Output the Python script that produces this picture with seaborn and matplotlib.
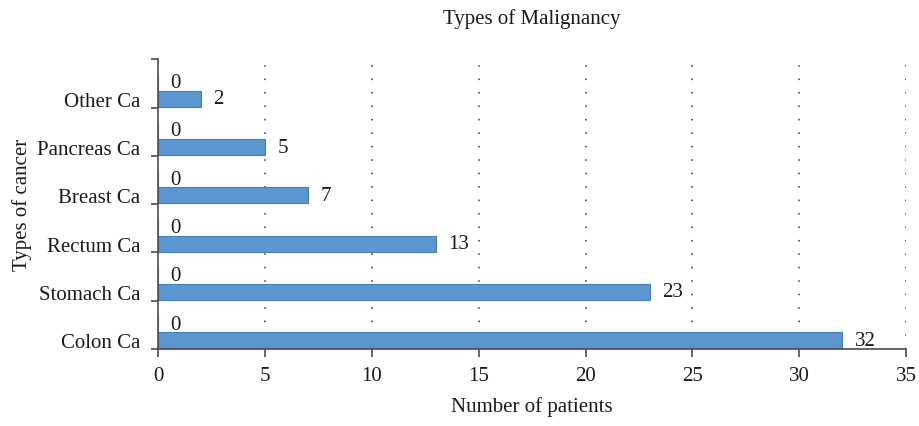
import pandas as pd
import numpy as np
import matplotlib.pyplot as plt
import seaborn as sns

# datos
tipos = ['Other Ca', 'Pancreas Ca', 'Breast Ca', 'Rectum Ca', 'Stomach Ca', 'Colon Ca']
pacientes = [2, 5, 7, 13, 23, 32]
serie_cero = [0, 0, 0, 0, 0, 0]

df = pd.DataFrame({
    'tipo': tipos * 2,
    'valor': serie_cero + pacientes,
    'serie': ['cero'] * len(tipos) + ['pacientes'] * len(tipos),
})

sns.set_style('white')
plt.rcParams['font.family'] = ['Liberation Serif', 'DejaVu Serif']

azul = '#5b96cf'
gris = '#4d4d4d'
texto = '#1a1a1a'
fs = 15

fig, ax = plt.subplots(figsize=(9.19, 4.27), dpi=100)
fig.subplots_adjust(left=0.172, right=0.986, top=0.859, bottom=0.18)

sns.barplot(data=df, x='valor', y='tipo', hue='serie', order=tipos,
            hue_order=['cero', 'pacientes'], palette=[azul, azul], saturation=1,
            orient='h', width=0.67, edgecolor='#4a7db3', linewidth=0.8,
            legend=False, ax=ax)

for cont in ax.containers:
    ax.bar_label(cont, padding=9, fontsize=fs, color=texto)

# ejes
ax.set_xlim(0, 35)
ax.set_xticks(np.arange(0, 36, 5))
ax.set_ylim(5.35, -0.65)
ax.set_yticks(np.arange(len(tipos)) + 0.1675, tipos)
ax.set_yticks(np.arange(-0.65, 5.4, 1.0), minor=True)
ax.tick_params(axis='y', which='major', length=0, pad=13, labelsize=fs, colors=texto)
ax.tick_params(axis='y', which='minor', length=5, width=1.2, color=gris, direction='out', left=True)
ax.tick_params(axis='x', length=6, width=1.2, color=gris, direction='out', bottom=True,
               labelsize=fs, labelcolor=texto, pad=6)

for lado in ['top', 'right']:
    ax.spines[lado].set_visible(False)
for lado in ['left', 'bottom']:
    ax.spines[lado].set_color(gris)
    ax.spines[lado].set_linewidth(1.2)

for xv in range(5, 36, 5):
    ax.axvline(xv, color='#333333', linewidth=1.1, linestyle=(0, (1, 7.8)), zorder=0)

ax.set_title('Types of Malignancy', fontsize=fs, pad=26, color=texto)
ax.set_xlabel('Number of patients', fontsize=fs, labelpad=8, color=texto)
ax.set_ylabel('Types of cancer', fontsize=fs, color=texto)
ax.yaxis.set_label_coords(-0.168, 0.5)

plt.savefig('out.png', dpi=100)
